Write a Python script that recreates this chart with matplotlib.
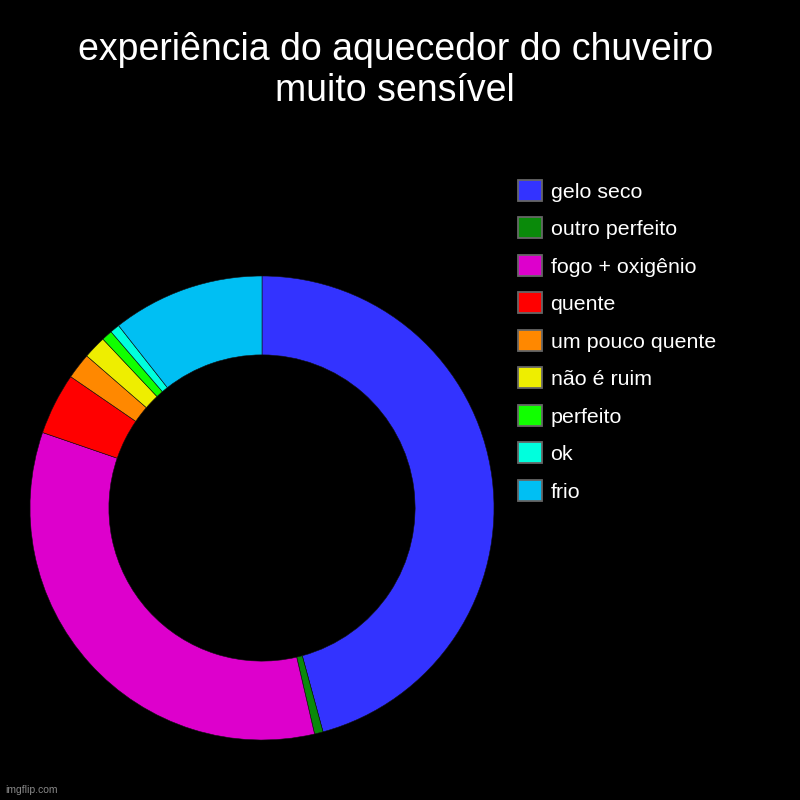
import matplotlib.pyplot as plt
from matplotlib.patches import Patch

plt.rcParams['font.family'] = ['Liberation Sans', 'DejaVu Sans']

labels = ["gelo seco", "outro perfeito", "fogo + oxigênio", "quente", "um pouco quente",
          "não é ruim", "perfeito", "ok", "frio"]
values = [45.75, 0.6, 33.9, 4.3, 1.8, 1.6, 0.75, 0.67, 10.6]
colors = ["#3333ff", "#0a8a0a", "#dd00cc", "#ff0000", "#ff8800",
          "#eeee00", "#11ff00", "#00ffdd", "#00bff3"]
title_lines = ["experiência do aquecedor do chuveiro", "muito sensível"]

fig = plt.figure(figsize=(8, 8), dpi=100, facecolor="black")

# donut: centre (262, 508) px, outer radius 232 px
cx, cy, r = 262, 508, 232
ax = fig.add_axes([(cx - r) / 800, (800 - cy - r) / 800, 2 * r / 800, 2 * r / 800])
ax.set_facecolor("black")
ax.pie(values, colors=colors, startangle=90, counterclock=False, radius=1,
       wedgeprops=dict(width=0.34, edgecolor="#111111", linewidth=0.4))
ax.set_xlim(-1, 1)
ax.set_ylim(-1, 1)
ax.set_aspect("equal")
ax.axis("off")

# title, two centred lines
fig.text(0.494, 1 - 60 / 800, title_lines[0], color="white", fontsize=27,
         ha="center", va="baseline")
fig.text(0.494, 1 - 101 / 800, title_lines[1], color="white", fontsize=27,
         ha="center", va="baseline")

handles = [Patch(facecolor=c, edgecolor="#666666", linewidth=1.3) for c in colors]
leg = fig.legend(handles, labels, loc="upper left", bbox_to_anchor=(0.6475, 1 - 180 / 800),
                 frameon=False, fontsize=15.4, labelcolor="white",
                 handlelength=1.12, handleheight=1.12, handletextpad=0.4,
                 labelspacing=0.74, borderaxespad=0, borderpad=0)

fig.text(0.006, 0.006, "imgflip.com", color="#888888", fontsize=7.5, ha="left", va="bottom")

fig.savefig("out.png", dpi=100, facecolor="black")
